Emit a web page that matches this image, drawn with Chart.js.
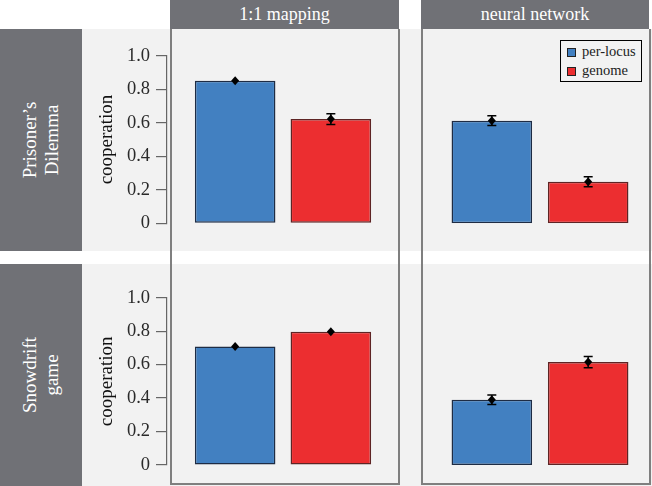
<!DOCTYPE html>
<html><head><meta charset="utf-8">
<script src="https://cdn.jsdelivr.net/npm/chart.js@4/dist/chart.umd.min.js"></script>
<style>
html,body{margin:0;padding:0;}
body{width:652px;height:486px;position:relative;background:#fff;overflow:hidden;}
.abs{position:absolute;}
.serif{font-family:'Liberation Serif','DejaVu Serif',serif !important;}
.rowbg{background:#f2f2f2;left:82px;width:570px;height:222px;}
.rowlab{background:#707176;left:0;width:82px;height:222px;color:#fff;font-size:19px;}
.rowlab span{position:absolute;left:50%;top:50%;transform:translate(-50%,-50%) rotate(-90deg);text-align:center;line-height:22px;white-space:nowrap;}
.head{background:#707176;top:0;height:29px;color:#fff;font-size:18px;text-align:center;line-height:29px;}
.panel{border:2px solid #7f7f7f;border-top:none;top:29px;height:456px;width:230px;box-sizing:border-box;}
canvas{position:absolute;}
.legend{left:560px;top:40px;width:82px;height:42px;border:1.5px solid #000;box-sizing:border-box;background:#f2f2f2;font-size:14.5px;color:#222;}
.legend .sw{position:absolute;left:6px;width:7px;height:7px;border:1px solid #222;}
.legend .tx{position:absolute;left:21px;line-height:16px;}
</style>
</head><body>
<div class="abs rowbg" style="top:29px"></div>
<div class="abs rowbg" style="top:264px"></div>
<div class="abs rowlab serif" style="top:29px"><span class="serif" id="rl0"></span></div>
<div class="abs rowlab serif" style="top:264px"><span class="serif" id="rl1"></span></div>
<div class="abs head serif" id="h0" style="left:170px;width:229px"></div>
<div class="abs head serif" id="h1" style="left:421px;width:228px"></div>
<div class="abs panel" style="left:170px"></div>
<div class="abs panel" style="left:421px"></div>
<canvas id="c00" width="318" height="222" style="left:82px;top:29px"></canvas>
<canvas id="c01" width="252" height="222" style="left:400px;top:29px"></canvas>
<canvas id="c10" width="318" height="222" style="left:82px;top:264px"></canvas>
<canvas id="c11" width="252" height="222" style="left:400px;top:264px"></canvas>
<div class="abs legend serif" id="legend"></div>
<script>
// ---- data ----
const games = ["Prisoner’s<br>Dilemma", "Snowdrift<br>game"];
const mappings = ["1:1 mapping", "neural network"];
const seriesNames = ["per-locus", "genome"];
const seriesColors = ["#4280c1", "#ec2e30"];
const seriesBorders = ["#1e2c44", "#5e2424"];
const yTickLabels = ["0", "0.2", "0.4", "0.6", "0.8", "1.0"];
const yAxisTitle = "cooperation";
// rows: game, columns: mapping
const perLocusMean = [[0.851, 0.612], [0.709, 0.390]];
const perLocusErr  = [[0.005, 0.029], [0.005, 0.029]];
const genomeMean   = [[0.622, 0.248], [0.797, 0.615]];
const genomeErr    = [[0.032, 0.030], [0.005, 0.034]];

const SERIF = "'Liberation Serif', 'DejaVu Serif', serif";

// ---- static text ----
document.getElementById('rl0').innerHTML = games[0];
document.getElementById('rl1').innerHTML = games[1];
document.getElementById('h0').textContent = mappings[0];
document.getElementById('h1').textContent = mappings[1];
const lg = document.getElementById('legend');
seriesNames.forEach((n, i) => {
  const sw = document.createElement('div'); sw.className = 'sw';
  sw.style.top = (7 + i * 19) + 'px'; sw.style.background = seriesColors[i];
  const tx = document.createElement('div'); tx.className = 'tx serif';
  tx.style.top = (2 + i * 19) + 'px'; tx.textContent = n;
  lg.appendChild(sw); lg.appendChild(tx);
});

const errPlugin = {
  id: 'errbars',
  afterDatasetsDraw(chart) {
    const {ctx} = chart; const y = chart.scales.y;
    chart.data.datasets.forEach((ds, di) => {
      const meta = chart.getDatasetMeta(di);
      meta.data.forEach((bar, i) => {
        const v = ds.data[i], e = ds.errors[i];
        const x = bar.x;
        const yM = y.getPixelForValue(v), yT = y.getPixelForValue(v + e), yB = y.getPixelForValue(v - e);
        ctx.save();
        ctx.strokeStyle = '#000'; ctx.fillStyle = '#000'; ctx.lineWidth = 1.5;
        if (e > 0.01) {
          ctx.beginPath();
          ctx.moveTo(x, yT); ctx.lineTo(x, yB);
          ctx.moveTo(x - 4.5, yT); ctx.lineTo(x + 4.5, yT);
          ctx.moveTo(x - 4.5, yB); ctx.lineTo(x + 4.5, yB);
          ctx.stroke();
        }
        ctx.beginPath();
        ctx.moveTo(x, yM - 4.5); ctx.lineTo(x + 4, yM); ctx.lineTo(x, yM + 4.5); ctx.lineTo(x - 4, yM);
        ctx.closePath(); ctx.fill();
        ctx.restore();
      });
    });
  }
};

function makeChart(id, r, c) {
  const leftCol = c === 0;
  const padTop = r === 0 ? 26.7 : 33.7;
  const padBottom = r === 0 ? 27.7 : 21;
  const ds = [
    {label: seriesNames[0], data: [perLocusMean[r][c]], errors: [perLocusErr[r][c]],
     backgroundColor: seriesColors[0], borderColor: seriesBorders[0]},
    {label: seriesNames[1], data: [genomeMean[r][c]], errors: [genomeErr[r][c]],
     backgroundColor: seriesColors[1], borderColor: seriesBorders[1]}
  ].map(d => Object.assign(d, {borderWidth: 1.5, borderSkipped: false,
     barPercentage: leftCol ? 0.842 : 0.836, categoryPercentage: leftCol ? 0.825 : 0.884}));
  const yOpts = {
    display: leftCol, min: 0, max: 1,
    border: {display: true, color: '#666', width: 1.2},
    grid: {drawOnChartArea: false, drawTicks: true, tickLength: 11, color: '#666', lineWidth: 1.2},
    ticks: {stepSize: 0.2, padding: 6, color: '#2a2a2a',
            font: {family: SERIF, size: 18.5},
            callback: (v, i) => yTickLabels[i]},
    title: {display: true, text: yAxisTitle, color: '#111', padding: {top: 14, bottom: 0},
            font: {family: SERIF, size: 19}}
  };
  if (leftCol) yOpts.afterFit = s => { s.width = 85; };
  new Chart(document.getElementById(id), {
    type: 'bar',
    data: {labels: [''], datasets: ds},
    plugins: [errPlugin],
    options: {
      responsive: false, animation: false, devicePixelRatio: 1,
      layout: {padding: leftCol ? {left: 0, right: 1, top: padTop, bottom: padBottom}
                                : {left: 31, right: 3, top: padTop, bottom: padBottom}},
      plugins: {legend: {display: false}, tooltip: {enabled: false}},
      scales: {x: {display: false}, y: yOpts}
    }
  });
}
makeChart('c00', 0, 0);
makeChart('c01', 0, 1);
makeChart('c10', 1, 0);
makeChart('c11', 1, 1);
</script>
</body></html>
